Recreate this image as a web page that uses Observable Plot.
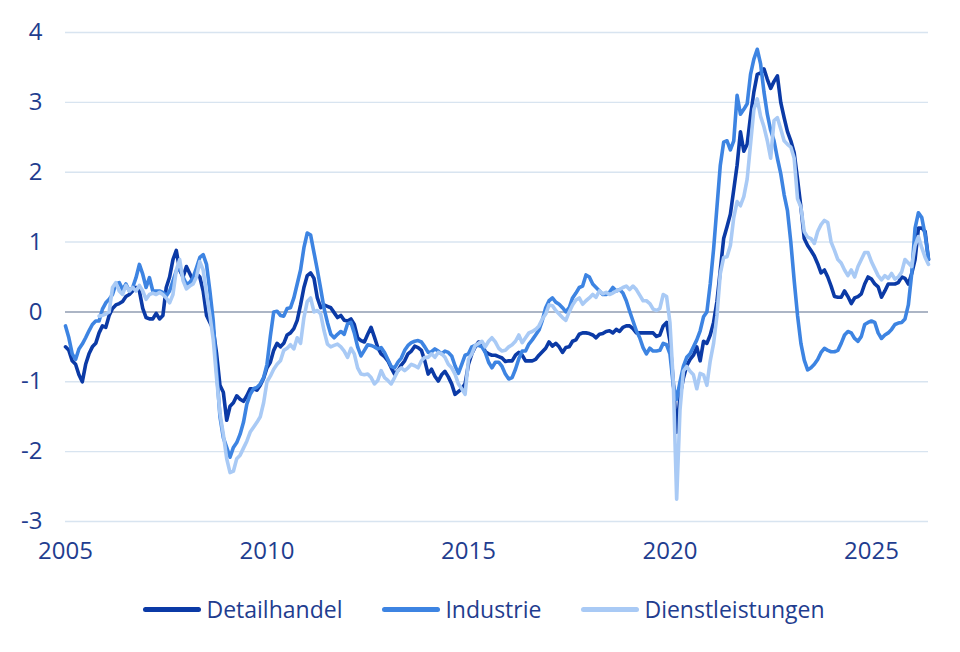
<!DOCTYPE html>
<html>
<head>
<meta charset="utf-8">
<script src="https://cdn.jsdelivr.net/npm/d3@7"></script>
<script src="https://cdn.jsdelivr.net/npm/@observablehq/plot@0.6"></script>
<style>
  body { margin: 0; background: #ffffff; font-family: "Open Sans", sans-serif; }
  #chart svg { display: block; }
  #legend { display: flex; justify-content: center; align-items: center; gap: 40px; margin-top: 14px; font-size: 23px; color: #1f3d8f; line-height: 30px; padding-left: 8px; }
  .item { display: flex; align-items: center; }
  .sw { width: 58px; height: 5px; border-radius: 3px; margin-right: 5px; }
</style>
</head>
<body>
<div id="chart"></div>
<div id="legend"></div>
<script>
// Monthly values starting January 2005
const startYear = 2005;

const detailhandel = [
  -0.5, -0.55, -0.7, -0.75, -0.9, -1.0, -0.75, -0.6, -0.5, -0.45, -0.3, -0.2,
  -0.22, -0.05, 0.05, 0.1, 0.12, 0.15, 0.22, 0.25, 0.3, 0.35, 0.3, 0.05,
  -0.08, -0.1, -0.1, -0.02, -0.1, -0.05, 0.35, 0.5, 0.75, 0.88, 0.6, 0.5,
  0.65, 0.55, 0.45, 0.55, 0.5, 0.3, -0.05, -0.15, -0.25, -0.6, -1.05, -1.15,
  -1.55, -1.35, -1.3, -1.2, -1.25, -1.28, -1.2, -1.1, -1.1, -1.12, -1.05, -0.95,
  -0.8, -0.72, -0.55, -0.45, -0.5, -0.45, -0.33, -0.3, -0.24, -0.12, 0.1, 0.35,
  0.52, 0.56, 0.48, 0.2, 0.06, 0.1, 0.08, 0.06, -0.01, -0.08, -0.05, -0.12,
  -0.13, -0.1, -0.18, -0.37, -0.41, -0.43, -0.32, -0.22, -0.36, -0.51, -0.6, -0.64,
  -0.7, -0.8, -0.89, -0.84, -0.76, -0.7, -0.6, -0.56, -0.49, -0.51, -0.55, -0.7,
  -0.89, -0.82, -0.92, -0.99, -0.9, -0.85, -0.93, -1.03, -1.18, -1.14, -1.1, -1.03,
  -0.75, -0.6, -0.5, -0.43, -0.45, -0.57, -0.6, -0.62, -0.62, -0.64, -0.66, -0.71,
  -0.7, -0.7, -0.62, -0.58, -0.62, -0.7, -0.7, -0.7, -0.68, -0.62, -0.57, -0.52,
  -0.43, -0.49, -0.45, -0.5, -0.58, -0.51, -0.5, -0.42, -0.4, -0.32, -0.3, -0.3,
  -0.31, -0.33, -0.37, -0.32, -0.31, -0.28, -0.27, -0.3, -0.25, -0.28, -0.22, -0.2,
  -0.2, -0.24, -0.3, -0.3, -0.3, -0.3, -0.3, -0.3, -0.35, -0.33, -0.2, -0.15,
  -0.42, -1.0, -1.72, -1.2, -0.95, -0.77, -0.68, -0.62, -0.5, -0.7, -0.42, -0.45,
  -0.33, -0.15, 0.15, 0.6, 1.05, 1.22, 1.4, 1.75, 2.1, 2.58, 2.3, 2.4,
  2.8, 3.15, 3.4, 3.42, 3.48, 3.33, 3.2, 3.3, 3.38, 3.0, 2.78, 2.58,
  2.45, 2.28, 1.9, 1.5, 1.05, 0.95, 0.88, 0.8, 0.69, 0.56, 0.6, 0.5,
  0.37, 0.22, 0.21, 0.21, 0.3, 0.22, 0.12, 0.2, 0.22, 0.26, 0.4, 0.5,
  0.47, 0.4, 0.36, 0.21, 0.3, 0.4, 0.4, 0.4, 0.42, 0.5, 0.48, 0.4,
  0.55, 0.75, 1.2, 1.2, 1.15, 0.75
];

const industrie = [
  -0.2, -0.37, -0.6, -0.68, -0.53, -0.46, -0.37, -0.27, -0.18, -0.13, -0.13, 0.04,
  0.13, 0.18, 0.25, 0.4, 0.42, 0.32, 0.4, 0.3, 0.35, 0.49, 0.68, 0.54,
  0.35, 0.49, 0.3, 0.3, 0.3, 0.28, 0.23, 0.3, 0.44, 0.59, 0.63, 0.5,
  0.4, 0.42, 0.49, 0.63, 0.78, 0.82, 0.68, 0.3, -0.13, -0.84, -1.5, -1.8,
  -1.94, -2.08, -1.94, -1.87, -1.75, -1.58, -1.32, -1.18, -1.1, -1.08, -1.03, -0.94,
  -0.75, -0.35, 0.0, 0.01, -0.05, -0.06, 0.05, 0.06, 0.2, 0.4, 0.6, 0.92,
  1.13, 1.1, 0.85, 0.6, 0.33, 0.05, -0.15, -0.32, -0.37, -0.32, -0.28, -0.32,
  -0.17, -0.15, -0.3, -0.5, -0.63, -0.55, -0.47, -0.48, -0.5, -0.53, -0.51, -0.58,
  -0.68, -0.78, -0.8, -0.72, -0.66, -0.55, -0.48, -0.44, -0.42, -0.41, -0.43, -0.5,
  -0.58, -0.57, -0.53, -0.56, -0.6, -0.56, -0.58, -0.63, -0.77, -0.88, -0.75, -0.62,
  -0.6, -0.5, -0.48, -0.48, -0.5, -0.58, -0.72, -0.8, -0.72, -0.72, -0.78, -0.89,
  -0.96, -0.94, -0.82, -0.67, -0.56, -0.56, -0.46, -0.4, -0.33, -0.26, -0.12, 0.06,
  0.16, 0.2, 0.14, 0.11, 0.06, 0.0, 0.06, 0.2, 0.27, 0.35, 0.37, 0.53,
  0.5, 0.4, 0.35, 0.3, 0.25, 0.25, 0.28, 0.35, 0.3, 0.32, 0.27, 0.16,
  0.01, -0.13, -0.27, -0.37, -0.51, -0.6, -0.52, -0.56, -0.56, -0.55, -0.45, -0.47,
  -0.6, -1.05, -1.25, -1.0, -0.78, -0.65, -0.6, -0.5, -0.4, -0.27, -0.07, 0.0,
  0.4, 0.9, 1.5, 2.1, 2.43, 2.45, 2.32, 2.45, 3.1, 2.83, 2.9, 2.98,
  3.4, 3.62, 3.76, 3.55, 3.15, 2.83, 2.6, 2.45, 2.2, 1.98, 1.68, 1.45,
  1.0, 0.45, -0.05, -0.45, -0.69, -0.83, -0.8, -0.75, -0.68, -0.58, -0.52, -0.55,
  -0.57, -0.57, -0.55, -0.45, -0.33, -0.28, -0.3, -0.38, -0.42, -0.35, -0.18, -0.15,
  -0.13, -0.15, -0.3, -0.38, -0.33, -0.3, -0.25, -0.18, -0.16, -0.15, -0.1, 0.1,
  0.55, 1.2, 1.42, 1.35, 1.1, 0.75
];

const dienstleistungen = [
  null, null, null, null, null, null, null, null, null, null, -0.06, -0.05,
  -0.03, 0.0, 0.35, 0.42, 0.3, 0.25, 0.38, 0.3, 0.35, 0.3, 0.38, 0.3,
  0.18, 0.25, 0.27, 0.25, 0.28, 0.25, 0.2, 0.13, 0.25, 0.6, 0.75, 0.45,
  0.33, 0.37, 0.4, 0.5, 0.72, 0.6, 0.25, -0.05, -0.4, -0.95, -1.45, -1.75,
  -2.1, -2.3, -2.28, -2.1, -2.05, -1.95, -1.85, -1.72, -1.65, -1.58, -1.5, -1.3,
  -1.0, -0.92, -0.82, -0.75, -0.7, -0.55, -0.52, -0.47, -0.53, -0.37, -0.45, -0.08,
  0.15, 0.2, 0.0, 0.02, -0.03, -0.27, -0.46, -0.5, -0.48, -0.46, -0.5, -0.56,
  -0.65, -0.52, -0.6, -0.8, -0.89, -0.9, -0.89, -0.94, -1.03, -0.98, -0.84, -0.94,
  -0.98, -1.03, -0.94, -0.84, -0.8, -0.84, -0.8, -0.75, -0.77, -0.8, -0.7, -0.65,
  -0.65, -0.6, -0.65, -0.58, -0.6, -0.65, -0.75, -0.8, -0.89, -1.03, -1.1, -1.18,
  -0.68, -0.6, -0.48, -0.45, -0.42, -0.5, -0.42, -0.37, -0.43, -0.52, -0.56, -0.55,
  -0.5, -0.47, -0.42, -0.33, -0.44, -0.37, -0.3, -0.28, -0.25, -0.2, -0.1, -0.03,
  0.1, 0.09, 0.02, -0.03, -0.08, -0.12, 0.0, 0.1, 0.17, 0.2, 0.11, 0.16,
  0.2, 0.25, 0.21, 0.3, 0.26, 0.28, 0.25, 0.27, 0.3, 0.32, 0.35, 0.37,
  0.32, 0.37, 0.32, 0.24, 0.16, 0.16, 0.12, 0.04, 0.02, 0.05, 0.25, 0.22,
  -0.15, -1.0, -2.68, -1.4, -0.85, -0.78, -0.85, -0.9, -1.1, -0.88, -0.9, -1.05,
  -0.7, -0.45, -0.05, 0.55, 0.78, 0.79, 0.95, 1.35, 1.58, 1.52, 1.65, 1.9,
  2.4, 2.9, 3.05, 2.8, 2.65, 2.45, 2.2, 2.74, 2.78, 2.62, 2.45, 2.4,
  2.36, 2.2, 1.62, 1.5, 1.15, 1.07, 1.05, 0.98, 1.15, 1.25, 1.31, 1.28,
  1.0, 0.88, 0.75, 0.7, 0.6, 0.52, 0.6, 0.5, 0.65, 0.75, 0.85, 0.85,
  0.72, 0.62, 0.52, 0.46, 0.52, 0.48, 0.55, 0.47, 0.5, 0.57, 0.75, 0.7,
  0.65, 0.95, 1.08, 0.92, 0.78, 0.68
];

const seriesNames = ["Detailhandel", "Industrie", "Dienstleistungen"];
const seriesColors = ["#0b3aa6", "#3d84e2", "#a9caf5"];
const yTicks = [-3, -2, -1, 0, 1, 2, 3, 4];
const xTicks = [2005, 2010, 2015, 2020, 2025];

const rows = [];
[detailhandel, industrie, dienstleistungen].forEach((arr, i) => {
  arr.forEach((v, m) => {
    if (v != null) rows.push({ series: seriesNames[i], t: startYear + m / 12, v });
  });
});
const lastT = startYear + (detailhandel.length - 1) / 12;

const chart = Plot.plot({
  width: 960,
  height: 580,
  marginLeft: 65,
  marginRight: 32,
  marginTop: 32,
  marginBottom: 59,
  style: { fontFamily: "'Open Sans', sans-serif", fontSize: "24px", color: "#1f3d8f", background: "#ffffff", overflow: "visible" },
  x: { domain: [startYear, lastT], label: null },
  y: { domain: [-3, 4], label: null },
  color: { domain: seriesNames, range: seriesColors },
  marks: [
    Plot.ruleY(yTicks.filter(d => d !== 0), { stroke: "#d8e4f0", strokeWidth: 1.4 }),
    Plot.ruleY([0], { stroke: "#5a6d8c", strokeWidth: 1.1 }),
    Plot.lineY(rows, { x: "t", y: "v", z: "series", stroke: "series", strokeWidth: 3.6, strokeLinejoin: "round", strokeLinecap: "round" }),
    Plot.axisY({ ticks: yTicks, tickFormat: d => String(d), tickSize: 0, tickPadding: 23, fill: "#1f3d8f" }),
    Plot.axisX({ ticks: xTicks, tickFormat: d => String(d), tickSize: 0, tickPadding: 20, fill: "#1f3d8f" })
  ]
});
document.getElementById("chart").appendChild(chart);

const legend = document.getElementById("legend");
seriesNames.forEach((name, i) => {
  const item = document.createElement("div");
  item.className = "item";
  const sw = document.createElement("span");
  sw.className = "sw";
  sw.style.background = seriesColors[i];
  const label = document.createElement("span");
  label.textContent = name;
  item.appendChild(sw);
  item.appendChild(label);
  legend.appendChild(item);
});
</script>
</body>
</html>
